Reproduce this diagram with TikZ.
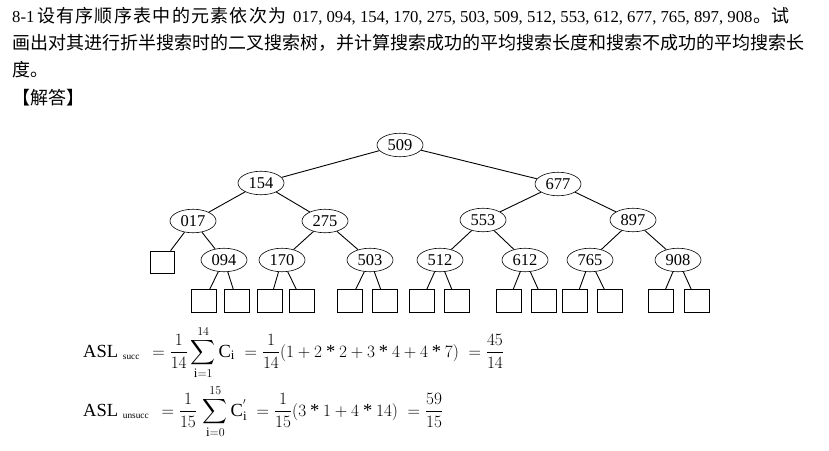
\documentclass[tikz,border=0pt]{standalone}
\usepackage{amsmath}
\usepackage{fontspec}
\setmainfont{Liberation Serif}
\newfontfamily\cjk{Noto Sans CJK SC}
\newfontfamily\cjkwide[LetterSpace=7]{Noto Sans CJK SC}
\usetikzlibrary{shapes.geometric}
\newcommand\mul{\mathbin{\text{*}}}
\begin{document}
\begin{tikzpicture}[x=1pt,y=-1pt,
  key/.style={ellipse, draw, line width=0.6pt, minimum width=46pt, minimum height=23.5pt, inner sep=0pt, font=\fontsize{16.5}{18}\selectfont},
  ext/.style={rectangle, draw, line width=0.6pt, minimum width=25pt, minimum height=23pt, inner sep=0pt},
  link/.style={line width=0.9pt},
  txt/.style={anchor=base west, inner sep=0pt},
  lat/.style={font=\fontsize{16.7}{18}\selectfont},
  han/.style={font=\fontsize{18}{20}\cjk},
  hanwide/.style={font=\fontsize{18}{20}\cjkwide},
  frm/.style={anchor=base west, inner sep=0pt, font=\fontsize{18.5}{20}\selectfont}]
\useasboundingbox (0,0) rectangle (829,450);

% question text
\node[txt,lat] (t1a) at (12,22) {8-1};
\node[txt,hanwide] (t1b) at (37,22) {设有序顺序表中的元素依次为};
\node[txt,lat] (t1c) at (293,22) {017, 094, 154, 170, 275, 503, 509, 512, 553, 612, 677, 765, 897, 908};
\node[txt,han] (t1d) at (753,22) {。试};
\node[txt,han] (t2) at (12,49) {画出对其进行折半搜索时的二叉搜索树，并计算搜索成功的平均搜索长度和搜索不成功的平均搜索长};
\node[txt,han] (t3) at (12,76) {度。};
\node[txt,han] (t4) at (12,104) {【解答】};

% internal nodes
\node[key] (n509) at (400,145) {509};
\node[key] (n154) at (261,183) {154};
\node[key] (n677) at (558,184) {677};
\node[key] (n017) at (193,221) {017};
\node[key] (n275) at (325,221) {275};
\node[key] (n553) at (483,220) {553};
\node[key] (n897) at (633,220) {897};
\node[key] (n094) at (224,260) {094};
\node[key] (n170) at (282,260) {170};
\node[key] (n503) at (370,260) {503};
\node[key] (n512) at (440,260) {512};
\node[key] (n612) at (525,260) {612};
\node[key] (n765) at (590,260) {765};
\node[key] (n908) at (678,260) {908};

% external nodes
\node[ext, minimum width=24pt, minimum height=22pt] (e0) at (162,262) {};
\node[ext] (e1) at (204,301) {};
\node[ext] (e2) at (237,301) {};
\node[ext] (e3) at (270,301) {};
\node[ext] (e4) at (302,301) {};
\node[ext] (e5) at (350,301) {};
\node[ext] (e6) at (385,301) {};
\node[ext] (e7) at (421.5,301) {};
\node[ext] (e8) at (456.5,301) {};
\node[ext] (e9) at (508.5,301) {};
\node[ext] (e10) at (543.5,301) {};
\node[ext] (e11) at (575,301) {};
\node[ext] (e12) at (610,301) {};
\node[ext] (e13) at (660.5,301) {};
\node[ext] (e14) at (696.5,301) {};

% connectors
\draw[link] (n509) -- (n154);
\draw[link] (n509) -- (n677);
\draw[link] (n154) -- (n017);
\draw[link] (n154) -- (n275);
\draw[link] (n677) -- (n553);
\draw[link] (n677) -- (n897);
\draw[link] (n017) -- (e0);
\draw[link] (n017) -- (n094);
\draw[link] (n275) -- (n170);
\draw[link] (n275) -- (n503);
\draw[link] (n553) -- (n512);
\draw[link] (n553) -- (n612);
\draw[link] (n897) -- (n765);
\draw[link] (n897) -- (n908);
\draw[link] (n094) -- (e1);
\draw[link] (n094) -- (e2);
\draw[link] (n170) -- (e3);
\draw[link] (n170) -- (e4);
\draw[link] (n503) -- (e5);
\draw[link] (n503) -- (e6);
\draw[link] (n512) -- (e7);
\draw[link] (n512) -- (e8);
\draw[link] (n612) -- (e9);
\draw[link] (n612) -- (e10);
\draw[link] (n765) -- (e11);
\draw[link] (n765) -- (e12);
\draw[link] (n908) -- (e13);
\draw[link] (n908) -- (e14);

% formulas
\node[frm] (f1) at (83,357) {$\displaystyle \mathrm{ASL}\;{}_{\scriptscriptstyle\mathrm{succ}}\;\,= \frac{1}{14}\sum_{\mathrm{i}=1}^{14}\mathrm{C}_{\mathrm{i}}\;= \frac{1}{14}(1+2\mul 2+3\mul 4+4\mul 7)\;= \frac{45}{14}$};
\node[frm] (f2) at (83,416) {$\displaystyle \mathrm{ASL}\;{}_{\scriptscriptstyle\mathrm{unsucc}}\;\,= \frac{1}{15}\,\sum_{\mathrm{i}=0}^{15}\mathrm{C}_{\mathrm{i}}^{'}\;= \frac{1}{15}(3\mul 1+4\mul 14)\;= \frac{59}{15}$};
\end{tikzpicture}
\end{document}
